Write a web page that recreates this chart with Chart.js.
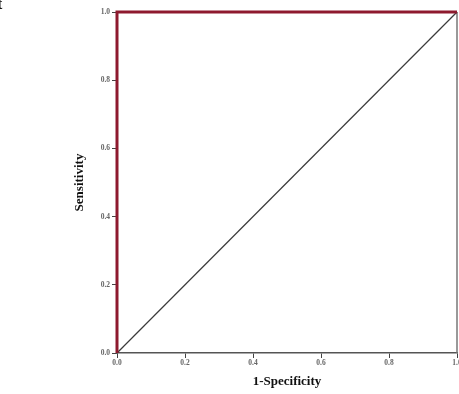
<!DOCTYPE html>
<html>
<head>
<meta charset="utf-8">
<script src="https://cdn.jsdelivr.net/npm/chart.js@4/dist/chart.umd.min.js"></script>
<style>
html,body{margin:0;padding:0;background:#fff;}
#wrap{width:459px;height:394px;position:relative;}
</style>
</head>
<body>
<div id="wrap"><canvas id="c" width="459" height="394"></canvas></div>
<script>
// ROC curve points (1-Specificity, Sensitivity)
const rocFpr = [0.0, 0.0, 1.0];
const rocTpr = [0.0, 1.0, 1.0];
// Reference (chance) line
const refX = [0.0, 1.0];
const refY = [0.0, 1.0];
// Axis ticks
const tickValues = [0.0, 0.2, 0.4, 0.6, 0.8, 1.0];
const xTitle = '1-Specificity';
const yTitle = 'Sensitivity';
const panelLetter = 't';

const toPts = (xs, ys) => xs.map((x, i) => ({x: x, y: ys[i]}));

const framePlugin = {
  id: 'frame',
  beforeDatasetsDraw(chart) {
    const {ctx, chartArea: a} = chart;
    ctx.save();
    ctx.strokeStyle = '#777';
    ctx.lineWidth = 1.5;
    ctx.beginPath();
    ctx.moveTo(a.right, a.top);
    ctx.lineTo(a.right, a.bottom);
    ctx.stroke();
    ctx.restore();
  },
  afterDraw(chart) {
    const {ctx} = chart;
    ctx.save();
    ctx.fillStyle = '#111';
    ctx.font = 'bold 16px "Liberation Serif"';
    ctx.textBaseline = 'alphabetic';
    ctx.fillText(panelLetter, -3, 9);
    ctx.restore();
  }
};

const tickFont = {family: '"Liberation Serif"', size: 7.5, weight: 'bold'};
const titleFont = {family: '"Liberation Serif"', size: 13, weight: 'bold'};

new Chart(document.getElementById('c'), {
  type: 'scatter',
  data: {
    datasets: [
      {
        data: toPts(refX, refY),
        showLine: true,
        borderColor: '#3a3a3a',
        borderWidth: 1.2,
        pointRadius: 0,
        clip: false,
        order: 2
      },
      {
        data: toPts(rocFpr, rocTpr),
        showLine: true,
        borderColor: '#8e1a2e',
        borderWidth: 3,
        pointRadius: 0,
        clip: false,
        order: 1
      }
    ]
  },
  options: {
    responsive: false,
    animation: false,
    devicePixelRatio: 1,
    layout: {padding: {left: 0, right: 2, top: 12, bottom: 5}},
    plugins: {legend: {display: false}, tooltip: {enabled: false}},
    scales: {
      x: {
        type: 'linear',
        min: 0, max: 1,
        afterBuildTicks(scale) { scale.ticks = tickValues.map(v => ({value: v})); },
        afterFit(scale) { scale.height = 36; scale.paddingRight = 0; scale.paddingLeft = 0; },
        grid: {drawOnChartArea: false, tickLength: 5, color: '#444', tickColor: '#444'},
        border: {color: '#555', width: 1.5},
        ticks: {font: tickFont, color: '#666', padding: 1, maxRotation: 0,
          callback: v => Number(v).toFixed(1)},
        title: {display: true, text: xTitle, font: titleFont, color: '#111', padding: {top: 0, bottom: 0}}
      },
      y: {
        type: 'linear',
        min: 0, max: 1,
        afterBuildTicks(scale) { scale.ticks = tickValues.map(v => ({value: v})); },
        afterFit(scale) { scale.width = 117; scale.paddingTop = 0; scale.paddingBottom = 0; },
        grid: {drawOnChartArea: false, tickLength: 5, color: '#444', tickColor: '#444'},
        border: {color: '#555', width: 1.5},
        ticks: {font: tickFont, color: '#666', padding: 2,
          callback: v => Number(v).toFixed(1)},
        title: {display: true, text: yTitle, font: titleFont, color: '#111', padding: {top: 72, bottom: 0}}
      }
    }
  },
  plugins: [framePlugin]
});
</script>
</body>
</html>
